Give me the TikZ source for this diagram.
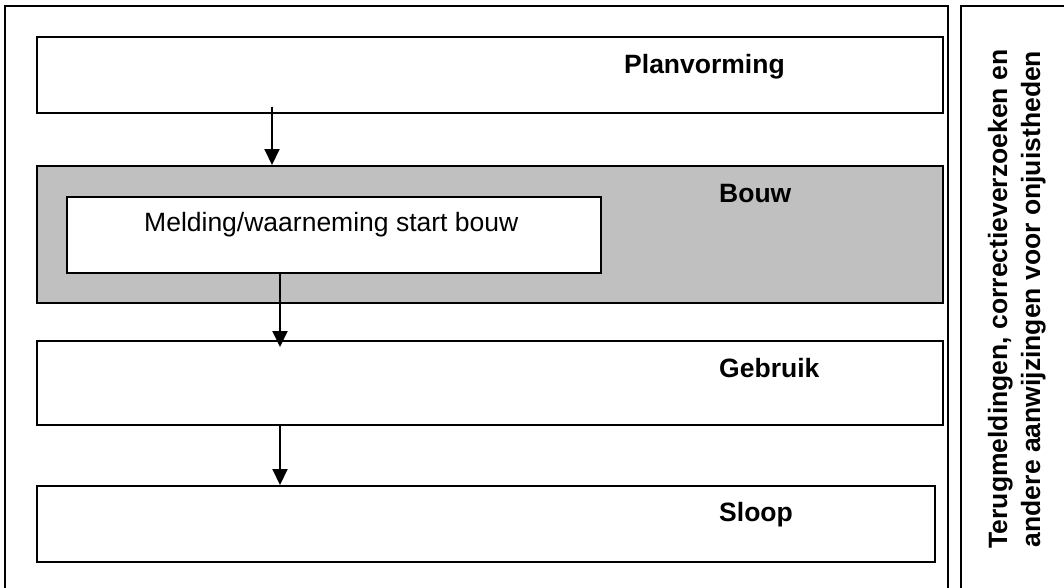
\documentclass[tikz,border=0pt]{standalone}
\usepackage{fontspec}
\setmainfont{Liberation Sans}
\usetikzlibrary{arrows.meta,calc}
\definecolor{bouwgray}{HTML}{C0C0C0}
\begin{document}
\begin{tikzpicture}[x=1pt,y=-1pt,
  frame/.style={draw=black,line width=2pt},
  phase/.style={draw=black,line width=1.6pt,fill=white,rectangle,inner sep=0pt,anchor=north west},
  lbl/.style={inner sep=0pt,anchor=base west,font=\fontsize{26.5}{33}\selectfont\bfseries},
  plain/.style={inner sep=0pt,anchor=base west,font=\fontsize{26.5}{33}\selectfont},
  side/.style={inner sep=0pt,anchor=base,rotate=90,font=\fontsize{26.5}{33}\selectfont\bfseries},
  arr/.style={line width=2pt,-{Triangle[width=15pt,length=16pt]}}]
\useasboundingbox (0,0) rectangle (1064,587);
\clip (0,0) rectangle (1064,587);
% frames
\draw[frame] (5,600) -- (5,6) -- (948,6) -- (948,600);
\draw[frame] (961,600) -- (961,6) -- (1080,6);
% phase boxes
\node[phase,minimum width=906pt,minimum height=76pt] (plan) at (36,36) {};
\node[phase,fill=bouwgray,minimum width=906pt,minimum height=137pt] (bouw) at (36,165) {};
\node[phase,minimum width=534pt,minimum height=76pt] (melding) at (66,196) {};
\node[phase,minimum width=906pt,minimum height=84pt] (gebruik) at (36,340) {};
\node[phase,minimum width=898pt,minimum height=76pt] (sloop) at (36,485) {};
% labels
\node[lbl] (tplan) at (624,73) {Planvorming};
\node[lbl] (tbouw) at (719,202) {Bouw};
\node[plain] (tmeld) at (144,231) {Melding/waarneming start bouw};
\node[lbl] (tgebr) at (719,377) {Gebruik};
\node[lbl] (tsloop) at (719,521) {Sloop};
\node[side] (side1) at (1007,299) {Terugmeldingen, correctieverzoeken en};
\node[side] (side2) at (1040,299) {andere aanwijzingen voor onjuistheden};
% arrows
\coordinate (a1s) at ($(plan.south west)+(236,-7)$);
\coordinate (a1e) at ($(bouw.north west)+(236,0)$);
\draw[arr] (a1s) -- (a1e);
\coordinate (a2s) at ($(melding.south west)+(214,0)$);
\coordinate (a2e) at ($(gebruik.north west)+(244,7)$);
\draw[arr] (a2s) -- (a2e);
\coordinate (a3s) at ($(gebruik.south west)+(244,0)$);
\coordinate (a3e) at ($(sloop.north west)+(244,0)$);
\draw[arr] (a3s) -- (a3e);
\end{tikzpicture}
\end{document}
